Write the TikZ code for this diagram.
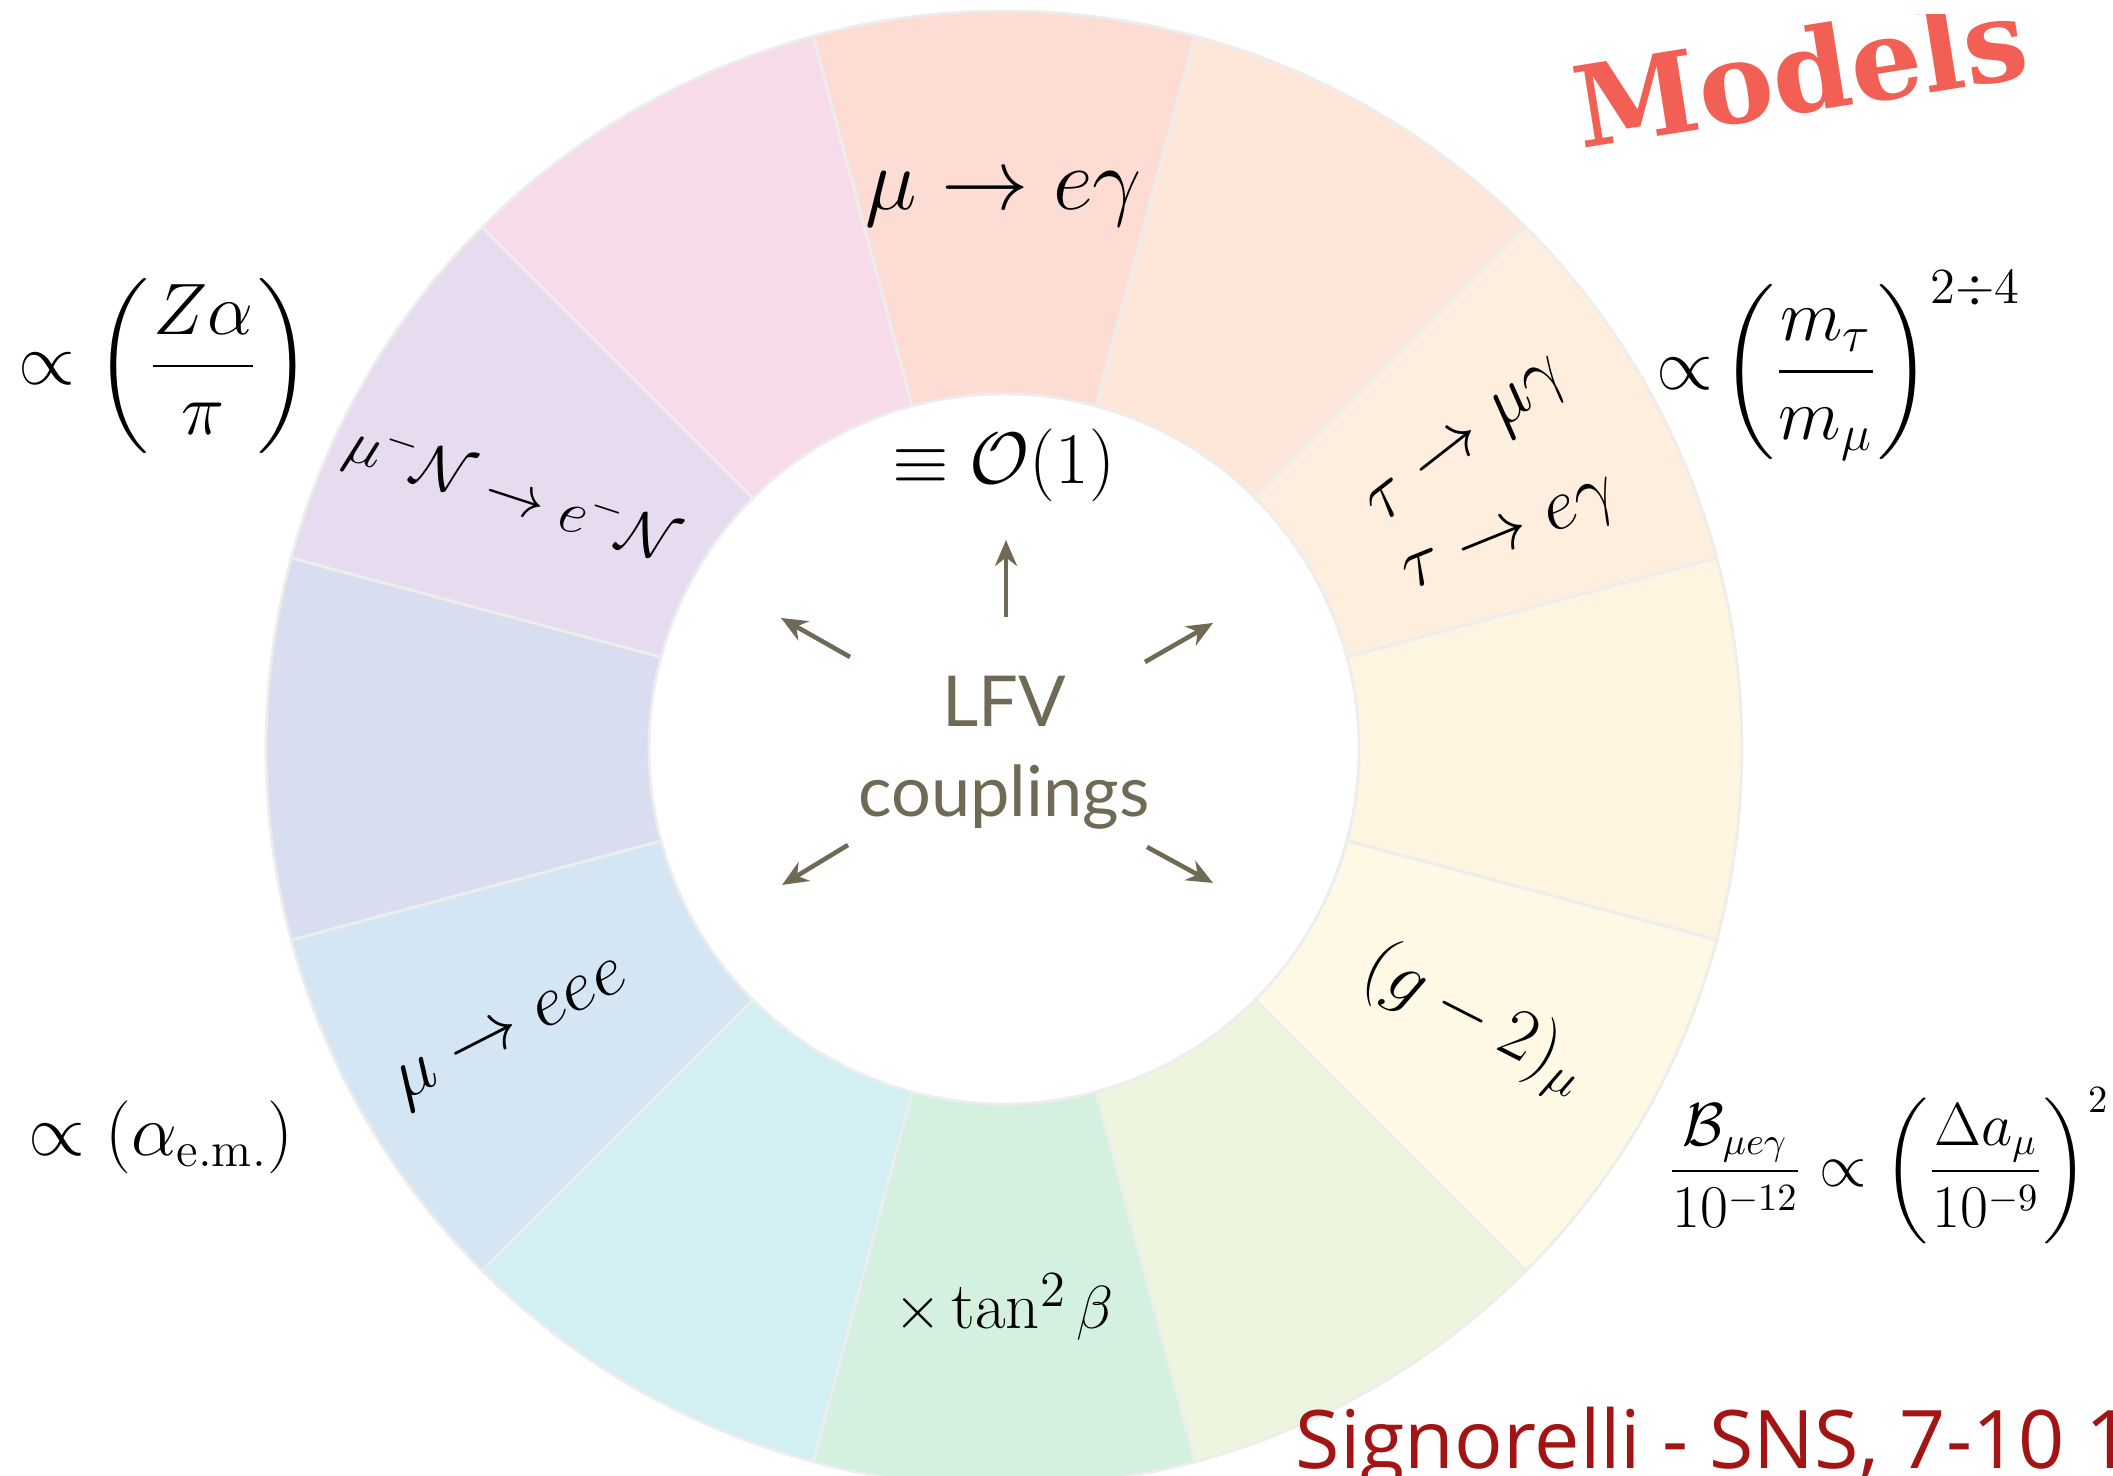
\documentclass[tikz,border=0pt]{standalone}
\usepackage{fontspec}
\usepackage{amsmath}
\usetikzlibrary{arrows.meta}
\newfontfamily\lfvfont{Lato}
\newfontfamily\slabfont{DejaVu Serif}
\newfontfamily\signfont{Open Sans}
\definecolor{sA}{HTML}{FDDCD3}
\definecolor{sB}{HTML}{FEE6D9}
\definecolor{sC}{HTML}{FEEEDD}
\definecolor{sD}{HTML}{FDF5DF}
\definecolor{sE}{HTML}{FEF9E4}
\definecolor{sF}{HTML}{EEF5DF}
\definecolor{sG}{HTML}{D4F1E0}
\definecolor{sH}{HTML}{D2EFF4}
\definecolor{sI}{HTML}{D4E5F3}
\definecolor{sJ}{HTML}{D9DDF0}
\definecolor{sK}{HTML}{E6DBEF}
\definecolor{sL}{HTML}{F7DBEA}
\definecolor{arrcol}{HTML}{6E6A55}
\definecolor{modred}{HTML}{F25F55}
\definecolor{signred}{HTML}{A31515}
\tikzset{
  lbl/.style={inner sep=1pt, font=\fontsize{22}{26}\selectfont},
  side/.style={inner sep=1pt, font=\fontsize{20}{24}\selectfont},
  arr/.style={-{Stealth[length=2.6mm,width=2.2mm]}, line width=1.3pt, arrcol}
}
\begin{document}
\begin{tikzpicture}
\useasboundingbox (0,0) rectangle (21.13,14.76);
\def\rout{7.38}
\def\rin{3.55}
% ring of twelve sectors
\begin{scope}[shift={(10.04,7.27)}]
\foreach \a/\c in {90/sA,60/sB,30/sC,0/sD,-30/sE,-60/sF,-90/sG,-120/sH,-150/sI,180/sJ,150/sK,120/sL}
  \filldraw[fill=\c, draw=black!7, line width=0.8pt] ({\a-15}:\rin) -- ({\a-15}:\rout)
    arc[start angle=\a-15, end angle=\a+15, radius=\rout] -- ({\a+15}:\rin)
    arc[start angle=\a+15, end angle=\a-15, radius=\rin] -- cycle;
\end{scope}
% centre
\node[align=center, text=arrcol, font=\lfvfont\fontsize{20}{25.6}\selectfont] (lfv) at (10.04,7.23) {LFV\\couplings};
\node[lbl] (ord) at (10.04,10.11) {$\equiv\mathcal{O}(1)$};
\coordinate (up-s) at (10.06,8.59);
\coordinate (up-e) at (10.06,9.36);
\coordinate (ul-s) at (8.50,8.19);
\coordinate (ul-e) at (7.81,8.58);
\coordinate (ur-s) at (11.45,8.14);
\coordinate (ur-e) at (12.13,8.53);
\coordinate (dl-s) at (8.48,6.31);
\coordinate (dl-e) at (7.82,5.91);
\coordinate (dr-s) at (11.47,6.29);
\coordinate (dr-e) at (12.13,5.93);
\draw[arr] (up-s) -- (up-e);
\draw[arr] (ul-s) -- (ul-e);
\draw[arr] (ur-s) -- (ur-e);
\draw[arr] (dl-s) -- (dl-e);
\draw[arr] (dr-s) -- (dr-e);
% sector labels
\node[lbl, font=\fontsize{23}{27}\selectfont] (meg) at (10.04,12.77) {$\mu\to e\gamma$};
\node[lbl, font=\fontsize{18}{22}\selectfont, rotate=-18] (mnen) at (5.12,9.81) {$\mu^-\mathcal{N}\to e^-\mathcal{N}$};
\node[lbl, font=\fontsize{20}{24}\selectfont, rotate=38] (tmg) at (14.70,10.31) {$\tau\to\mu\gamma$};
\node[lbl, font=\fontsize{20}{24}\selectfont, rotate=22] (teg) at (15.12,9.36) {$\tau\to e\gamma$};
\node[lbl, rotate=27] (meee) at (5.13,4.40) {$\mu\to eee$};
\node[lbl, rotate=-27] (gm2) at (14.75,4.56) {$(g-2)_\mu$};
\node[lbl, font=\fontsize{19}{23}\selectfont] (tanb) at (10.04,1.69) {$\times\tan^2\beta$};
% scalings outside the ring
\node[side] (za) at (1.65,11.10) {$\displaystyle\propto\left(\frac{Z\alpha}{\pi}\right)$};
\node[side, font=\fontsize{21.5}{25}\selectfont, anchor=west] (mt) at (16.52,11.10) {$\displaystyle\propto\!\left(\frac{m_\tau}{m_\mu}\right)^{2\div4}$};
\node[side] (aem) at (1.61,3.39) {$\propto\left(\alpha_{\rm e.m.}\right)$};
\node[side, font=\fontsize{16}{19}\selectfont, anchor=west] (bm) at (16.64,3.10) {$\displaystyle\frac{\mathcal{B}_{\mu e\gamma}}{10^{-12}}\propto\left(\frac{\Delta a_\mu}{10^{-9}}\right)^2$};
% slide decorations
\begin{scope}
\clip (0,0) rectangle (21.13,14.61);
\node[text=modred, font=\slabfont\bfseries\fontsize{32}{36}\selectfont, rotate=9] (mod) at (18.0,14.05) {Models};
\end{scope}
\node[text=signred, font=\signfont\fontsize{23}{27}\selectfont, anchor=base west, inner sep=0pt] (sig) at (12.95,0.07) {Signorelli - SNS, 7-10 1};
\end{tikzpicture}
\end{document}
